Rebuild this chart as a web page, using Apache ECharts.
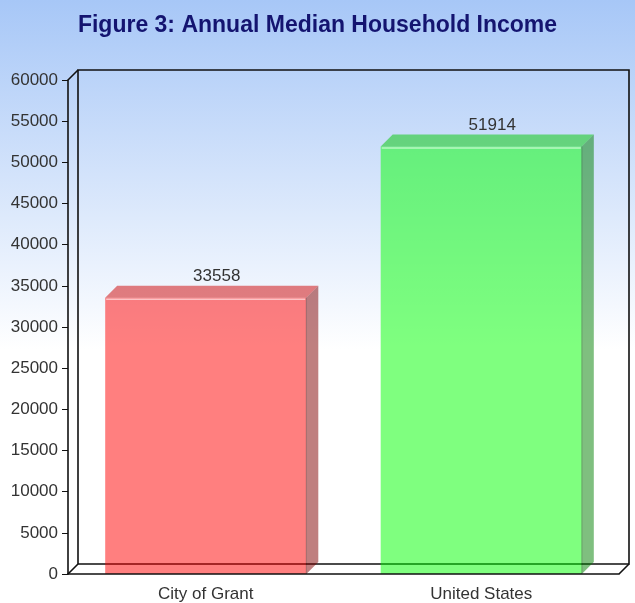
<!DOCTYPE html>
<html>
<head>
<meta charset="utf-8">
<script src="https://cdn.jsdelivr.net/npm/echarts@6/dist/echarts.min.js"></script>
<style>
  html, body { margin: 0; padding: 0; }
  #chart { width: 635px; height: 603px; }
</style>
</head>
<body>
<div id="chart"></div>
<script>
// data
var categories = ['City of Grant', 'United States'];
var incomes = [33558, 51914];
var yTicks = [0, 5000, 10000, 15000, 20000, 25000, 30000, 35000, 40000, 45000, 50000, 55000, 60000];

// bar colours: front, top, side
var faceColors = [
  ['rgba(255,0,0,0.5)', 'rgba(205,0,0,0.5)', 'rgba(128,0,0,0.5)'],
  ['rgba(0,255,0,0.5)', 'rgba(0,200,0,0.5)', 'rgba(0,128,0,0.5)']
];

var DEPTH = 10;      // depth of the back wall
var BAR_DEPTH = 12;  // depth of a bar
var labelFont = '"Liberation Sans", Arial, sans-serif';

var chart = echarts.init(document.getElementById('chart'));

function renderFrame(params, api) {
  var cs = params.coordSys;
  var x = cs.x, y = cs.y, w = cs.width, h = cs.height, d = DEPTH;
  var st = { stroke: '#111', lineWidth: 1.6 };
  return {
    type: 'group',
    children: [
      { type: 'rect', shape: { x: x + d, y: y - d, width: w, height: h }, style: { fill: null, stroke: '#111', lineWidth: 1.6 } },
      { type: 'line', shape: { x1: x, y1: y, x2: x + d, y2: y - d }, style: st },
      { type: 'line', shape: { x1: x, y1: y + h, x2: x + d, y2: y + h - d }, style: st },
      { type: 'line', shape: { x1: x + w, y1: y + h, x2: x + w + d, y2: y + h - d }, style: st }
    ]
  };
}

function renderBar(params, api) {
  var i = api.value(0);
  var top = api.coord([i, api.value(1)]);
  var base = api.coord([i, 0]);
  var bw = api.size([1, 0])[0] * 0.73;
  var L = top[0] - bw / 2, R = top[0] + bw / 2;
  var t = top[1], b = base[1], d = BAR_DEPTH;
  var c = faceColors[params.dataIndex];
  return {
    type: 'group',
    children: [
      { type: 'rect', shape: { x: L, y: t, width: bw, height: b - t }, style: { fill: c[0] } },
      { type: 'polygon', shape: { points: [[L, t], [R, t], [R + d, t - d], [L + d, t - d]] }, style: { fill: c[1] } },
      { type: 'polygon', shape: { points: [[R, t], [R + d, t - d], [R + d, b - d], [R, b]] }, style: { fill: c[2] } },
      { type: 'line', shape: { x1: L + 1, y1: t + 1.5, x2: R - 1, y2: t + 1.5 }, style: { stroke: 'rgba(255,255,255,0.55)', lineWidth: 1.5 } },
      { type: 'line', shape: { x1: R, y1: t, x2: R, y2: b }, style: { stroke: 'rgba(0,0,0,0.25)', lineWidth: 1 } },
      {
        type: 'text',
        x: top[0] + d - 1, y: t - d - 1,
        style: {
          text: String(api.value(1)), fill: '#333',
          font: '17px ' + labelFont,
          align: 'center', verticalAlign: 'bottom'
        }
      }
    ]
  };
}

chart.setOption({
  backgroundColor: {
    type: 'linear', x: 0, y: 0, x2: 0, y2: 1,
    colorStops: [
      { offset: 0, color: '#a7c7f7' },
      { offset: 0.58, color: '#ffffff' },
      { offset: 1, color: '#ffffff' }
    ]
  },
  title: {
    text: 'Figure 3: Annual Median Household Income',
    left: 'center',
    top: 9,
    textStyle: {
      color: '#141470',
      fontSize: 23,
      fontWeight: 'bold',
      fontFamily: '"Liberation Sans", Arial, sans-serif'
    }
  },
  grid: { left: 68, top: 80, right: 16, bottom: 29, outerBoundsMode: 'none', containLabel: false },
  xAxis: {
    type: 'category',
    data: categories,
    z: 5,
    axisLine: { lineStyle: { color: '#111', width: 1.6 } },
    axisTick: { alignWithLabel: true, length: 6, lineStyle: { color: '#111' } },
    axisLabel: { color: '#333', fontSize: 17, fontFamily: labelFont, margin: 12 }
  },
  yAxis: {
    type: 'value',
    min: yTicks[0],
    max: yTicks[yTicks.length - 1],
    interval: yTicks[1] - yTicks[0],
    z: 5,
    axisLine: { show: true, lineStyle: { color: '#111', width: 1.6 } },
    axisTick: { show: true, length: 6, lineStyle: { color: '#111' } },
    axisLabel: {
      color: '#333', fontSize: 17, fontFamily: labelFont, margin: 10,
      formatter: function (v) { return String(v); }
    },
    splitLine: { show: false }
  },
  series: [
    {
      type: 'custom',
      name: 'frame',
      z: 1,
      silent: true,
      renderItem: renderFrame,
      data: [[0, 0]]
    },
    {
      type: 'custom',
      name: 'income',
      z: 3,
      renderItem: renderBar,
      encode: { x: 0, y: 1 },
      data: incomes.map(function (v, i) { return [i, v]; })
    }
  ]
});
</script>
</body>
</html>
